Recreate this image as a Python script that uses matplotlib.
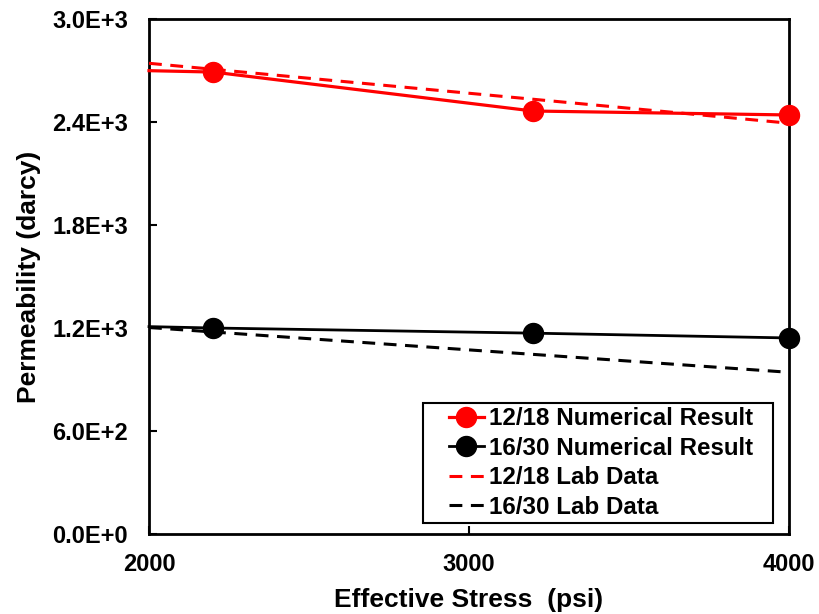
import math
import matplotlib
matplotlib.use("Agg")
import matplotlib.pyplot as plt
from matplotlib.ticker import FuncFormatter
from matplotlib.patches import Rectangle
from matplotlib.transforms import IdentityTransform

# Data
num_x = [2000, 2200, 3200, 4000]
num_1218 = [2699, 2691, 2464, 2441]
num_1630 = [1208, 1200, 1170, 1142]
lab_x = [2000, 4000]
lab_1218 = [2742, 2393]
lab_1630 = [1203, 942]
yticks = [0, 600, 1200, 1800, 2400, 3000]
xticks = [2000, 3000, 4000]

plt.rcParams['font.family'] = ['Liberation Sans', 'DejaVu Sans']
plt.rcParams['font.weight'] = 'bold'

W, H = 819, 614
fig = plt.figure(figsize=(W / 100, H / 100), dpi=100)
L, R, T, B = 149, 789, 19, 534
ax = fig.add_axes([L / W, 1 - B / H, (R - L) / W, (B - T) / H])

ax.plot(num_x, num_1218, color='#ff0000', lw=2.3, marker='o', ms=14.4,
        markevery=[1, 2, 3], label='12/18 Numerical Result', clip_on=False, zorder=4)
ax.plot(num_x, num_1630, color='black', lw=2.0, marker='o', ms=14.4,
        markevery=[1, 2, 3], label='16/30 Numerical Result', clip_on=False, zorder=4)
ax.plot(lab_x, lab_1218, color='#ff0000', lw=2.2, ls=(0, (4.2, 2.8)), label='12/18 Lab Data', zorder=3)
ax.plot(lab_x, lab_1630, color='black', lw=2.2, ls=(0, (4.2, 2.8)), label='16/30 Lab Data', zorder=3)

ax.set_xlim(2000, 4000)
ax.set_ylim(0, 3000)
ax.set_xticks(xticks)
ax.set_yticks(yticks)

def fmt(v, pos):
    if v == 0:
        return '0.0E+0'
    e = int(math.floor(math.log10(abs(v))))
    m = v / 10 ** e
    return f'{m:.1f}E+{e}'

ax.yaxis.set_major_formatter(FuncFormatter(fmt))
ax.tick_params(axis='both', direction='in', length=6, width=1.5, labelsize=17)
ax.tick_params(axis='y', pad=15)
ax.tick_params(axis='x', pad=14)
for s in ax.spines.values():
    s.set_linewidth(2)
for lab in ax.get_xticklabels() + ax.get_yticklabels():
    lab.set_fontweight('bold')

ax.set_xlabel('Effective Stress  (psi)', fontsize=19, fontweight='bold', labelpad=8.5)
ax.set_ylabel('Permeability (darcy)', fontsize=19, fontweight='bold', labelpad=8)

# legend: content anchored so that the frame (drawn separately) has wider side padding
box_r, box_b = 773, 523
extra_r, extra_l = 16, 21
anchor = ((box_r - extra_r - L) / (R - L), (B - box_b) / (B - T))
leg = ax.legend(loc='lower right', bbox_to_anchor=anchor, fontsize=17.4, frameon=False,
                handlelength=1.45, handletextpad=0.2, borderaxespad=0.0,
                labelspacing=0.27, borderpad=0.18)
for t in leg.get_texts():
    t.set_fontweight('bold')
leg.set_zorder(6)

fig.canvas.draw()
bb = leg.get_window_extent()
rect = Rectangle((bb.x0 - extra_l, bb.y0), bb.width + extra_l + extra_r, bb.height,
                 transform=IdentityTransform(), fill=True, facecolor='white',
                 edgecolor='black', linewidth=1.5, zorder=5.5, clip_on=False)
ax.add_artist(rect)

fig.savefig('out.png', dpi=100)
